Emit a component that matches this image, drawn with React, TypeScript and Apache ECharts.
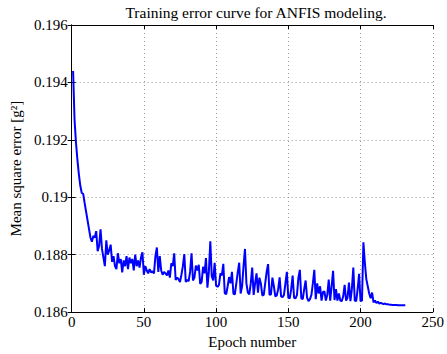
import React, { useEffect, useRef } from "react";
import * as echarts from "echarts";

const titleText = "Training error curve for ANFIS modeling.";
const xName = "Epoch number";
const yName = "Mean square error [g²]";
const xTicks = [0, 50, 100, 150, 200, 250];
const yTicks = [0.186, 0.188, 0.19, 0.192, 0.194, 0.196];

const errors1to50 = [
  0.1944, 0.1927, 0.1919, 0.1913, 0.1908, 0.1904, 0.19015, 0.19012, 0.1898, 0.1895,
  0.1892, 0.1889, 0.1886, 0.18845, 0.18865, 0.1886, 0.18882, 0.18812, 0.1883, 0.18888,
  0.1882, 0.1879, 0.1876, 0.1885, 0.188, 0.18815, 0.18835, 0.18775, 0.18795, 0.1876,
  0.1875, 0.18805, 0.1877, 0.18785, 0.18738, 0.1878, 0.1876, 0.18795, 0.1875, 0.1879,
  0.1877, 0.18785, 0.18745, 0.188, 0.1876, 0.1878, 0.18755, 0.1879, 0.18808, 0.1873,
];
const errors51to100 = [
  0.1876, 0.18745, 0.18735, 0.1875, 0.18738, 0.18742, 0.18735, 0.18795, 0.18825, 0.1874,
  0.18795, 0.18745, 0.1873, 0.1874, 0.18735, 0.18728, 0.18745, 0.1872, 0.1877, 0.1876,
  0.18805, 0.18712, 0.1872, 0.18715, 0.18705, 0.1873, 0.1876, 0.18802, 0.18705, 0.18712,
  0.18708, 0.1874, 0.18805, 0.1871, 0.1872, 0.18762, 0.18745, 0.18765, 0.18698, 0.18705,
  0.18758, 0.18735, 0.18788, 0.18685, 0.1874, 0.18847, 0.18725, 0.1871, 0.18772, 0.18692,
];
const errors101to150 = [
  0.18688, 0.18695, 0.18735, 0.18728, 0.18768, 0.18666, 0.18662, 0.1869, 0.18722, 0.187,
  0.1874, 0.18664, 0.18662, 0.187, 0.18738, 0.18772, 0.18665, 0.1869, 0.1876, 0.1882,
  0.187, 0.18668, 0.18662, 0.187, 0.18755, 0.1866, 0.187, 0.18735, 0.18668, 0.1872,
  0.187, 0.18658, 0.1866, 0.187, 0.1874, 0.18767, 0.1866, 0.18662, 0.1872, 0.1869,
  0.18655, 0.18658, 0.1868, 0.18721, 0.18655, 0.18652, 0.1866, 0.187, 0.1874, 0.1865,
];
const errors151to200 = [
  0.18648, 0.1868, 0.18727, 0.1865, 0.18648, 0.1866, 0.1872, 0.18747, 0.18648, 0.18645,
  0.1868, 0.1871, 0.1865, 0.18638, 0.18645, 0.1866, 0.187, 0.18747, 0.18645, 0.187,
  0.18665, 0.1869, 0.1864, 0.1867, 0.18672, 0.1864, 0.1866, 0.18713, 0.1864, 0.1869,
  0.18744, 0.18642, 0.1868, 0.1864, 0.18665, 0.1864, 0.18638, 0.18655, 0.18695, 0.1864,
  0.1865, 0.18703, 0.18638, 0.1868, 0.18755, 0.1864, 0.18638, 0.1868, 0.18733, 0.18638,
];
const errors201to231 = [
  0.1864, 0.18843, 0.18772, 0.18715, 0.1869, 0.18665, 0.18648, 0.18668, 0.18634, 0.1864,
  0.18632, 0.18636, 0.1863, 0.18632, 0.1863, 0.18628, 0.1863, 0.18627, 0.18627, 0.18626,
  0.18626, 0.18625, 0.18625, 0.18625, 0.18625, 0.18624, 0.18624, 0.18624, 0.18624, 0.18624,
  0.18624,
];

const errors = [
  ...errors1to50,
  ...errors51to100,
  ...errors101to150,
  ...errors151to200,
  ...errors201to231,
];

const FONT = "Liberation Serif";

export default function App() {
  const ref = useRef<HTMLDivElement>(null);
  useEffect(() => {
    if (!ref.current) return;
    const chart = echarts.init(ref.current, null, { renderer: "svg" });
    const data = errors.map((v, i) => [i + 1, v]);
    const fmtY = (v: number) => {
      const t = yTicks.find((k) => Math.abs(k - v) < 1e-9);
      return t === undefined ? "" : String(t);
    };
    const fmtX = (v: number) => {
      const t = xTicks.find((k) => Math.abs(k - v) < 1e-9);
      return t === undefined ? "" : String(t);
    };
    const grid = { left: 66, right: 12, top: 25, bottom: 37 };
    const axisLine = { show: true, lineStyle: { color: "#000", width: 1 } };
    const axisTick = { show: true, inside: true, length: 4, lineStyle: { color: "#000" } };
    const splitLine = { show: true, lineStyle: { color: "#999", type: [1, 3] as any, width: 1 } };
    chart.setOption({
      animation: false,
      backgroundColor: "#fff",
      textStyle: { fontFamily: FONT, color: "#000" },
      graphic: [
        {
          type: "text",
          x: 256,
          y: 12,
          style: {
            text: titleText,
            fontFamily: FONT,
            fontSize: 15.5,
            fill: "#000",
            align: "center",
            verticalAlign: "middle",
          },
        },
      ],
      grid,
      xAxis: [
        {
          type: "value",
          min: 0,
          max: 250,
          interval: 50,
          name: xName,
          nameLocation: "middle",
          nameGap: 18,
          nameTextStyle: { fontFamily: FONT, fontSize: 15, color: "#000" },
          axisLine,
          axisTick,
          splitLine,
          axisLabel: { margin: 2, fontFamily: FONT, fontSize: 15, color: "#000", formatter: fmtX },
        },
        {
          type: "value",
          position: "top",
          min: 0,
          max: 250,
          interval: 50,
          axisLine,
          axisTick,
          splitLine: { show: false },
          axisLabel: { show: false },
        },
      ],
      yAxis: [
        {
          type: "value",
          min: 0.186,
          max: 0.196,
          interval: 0.002,
          name: yName,
          nameLocation: "middle",
          nameGap: 44,
          nameRotate: 90,
          nameTextStyle: { fontFamily: FONT, fontSize: 15, color: "#000" },
          axisLine,
          axisTick,
          splitLine,
          axisLabel: { margin: 4, fontFamily: FONT, fontSize: 15, color: "#000", formatter: fmtY },
        },
        {
          type: "value",
          position: "right",
          min: 0.186,
          max: 0.196,
          interval: 0.002,
          axisLine,
          axisTick,
          splitLine: { show: false },
          axisLabel: { show: false },
        },
      ],
      series: [
        {
          type: "line",
          data,
          showSymbol: false,
          symbol: "none",
          lineStyle: { color: "#0000ff", width: 2 },
          xAxisIndex: 0,
          yAxisIndex: 0,
        },
      ],
    });
    return () => chart.dispose();
  }, []);
  return (
    <div
      ref={ref}
      style={{ position: "fixed", left: 0, top: 0, width: 447, height: 354, background: "#fff" }}
    />
  );
}
